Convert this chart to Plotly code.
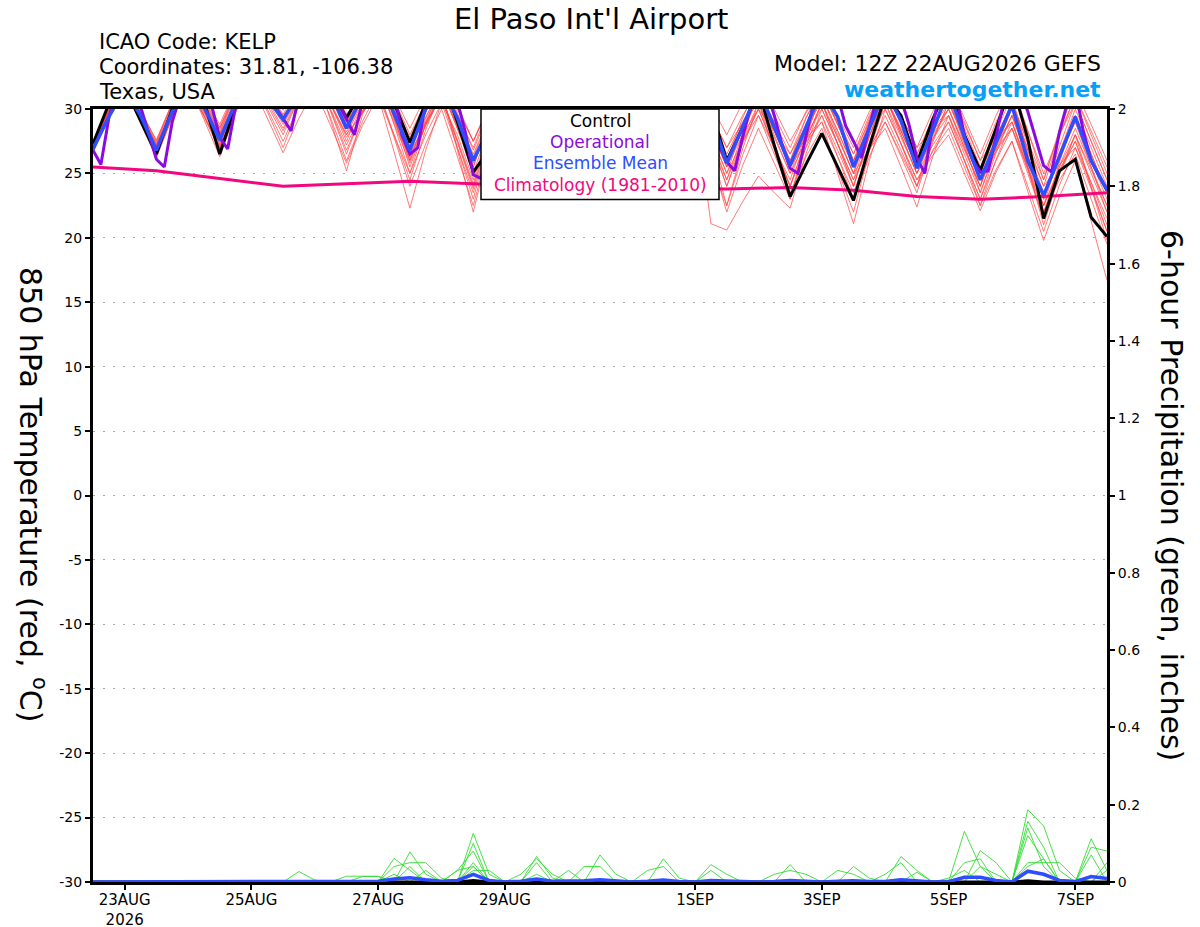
import pandas as pd
import plotly.graph_objects as go

# forecast times of the 12Z 22AUG2026 GEFS run (operational run is 3-hourly)
times_6h = pd.date_range("2026-08-22 12:00", periods=65, freq="6h")
times_3h = pd.date_range("2026-08-22 12:00", periods=129, freq="3h")
clim_times = pd.date_range("2026-08-22 12:00", periods=17, freq="D")

# 850 hPa temperature (C), one row per day: 12Z, 18Z, 00Z, 06Z
control_t = [27.3, 30.4, 31.7, 29.1, 26.5, 30.0, 32.2, 30.6, 26.5, 30.2, 32.4, 31.0,
             30.2, 32.0, 33.0, 31.5, 29.3, 31.5, 33.0, 30.5, 27.4, 30.5, 32.5, 29.0,
             25.1, 26.8, 30.5, 30.0, 27.0, 30.0, 32.0, 30.5, 27.0, 30.0, 32.0, 30.5,
             27.0, 30.0, 32.0, 30.0, 26.0, 28.5, 31.5, 27.2, 23.2, 25.7, 28.1, 25.5,
             22.9, 27.1, 31.0, 29.5, 25.8, 29.2, 32.0, 28.0, 25.2, 28.5, 32.0, 27.7,
             21.5, 25.2, 26.1, 21.6, 20.1]
mean_t = [26.9, 29.4, 31.5, 29.5, 26.8, 29.8, 31.5, 30.2, 27.6, 30.5, 32.0, 30.8,
          29.2, 31.2, 32.5, 31.2, 28.5, 31.0, 32.5, 29.6, 26.8, 30.0, 31.8, 29.3,
          26.0, 28.5, 31.0, 29.5, 26.8, 29.8, 31.5, 29.8, 26.8, 29.8, 31.5, 29.8,
          26.8, 29.8, 31.5, 29.5, 25.8, 28.6, 31.5, 28.6, 25.6, 28.6, 31.5, 29.4,
          25.5, 28.5, 31.5, 29.1, 25.4, 28.3, 31.5, 27.8, 24.5, 27.4, 30.3, 26.0,
          23.3, 26.3, 29.4, 26.0, 23.7]
oper_t = [26.8, 25.7, 29.3, 31.5, 32.5, 32.5, 30.2, 28.2,
          26.1, 25.5, 29.0, 31.0, 32.5, 32.5, 31.5, 30.2,
          27.8, 26.9, 30.2, 32.0, 33.0, 32.5, 31.2, 30.2,
          29.3, 28.3, 31.0, 32.5, 33.0, 33.0, 32.0, 30.5,
          29.2, 28.0, 30.5, 32.0, 33.0, 32.5, 31.5, 28.0,
          26.5, 27.0, 30.5, 32.0, 33.0, 32.5, 30.6, 28.2,
          24.9, 24.6, 27.5, 30.0, 32.0, 32.5, 32.0, 30.0,
          27.0, 26.5, 29.5, 31.5, 32.5, 32.5, 31.5, 29.5,
          26.8, 26.3, 29.5, 31.5, 32.5, 32.5, 31.5, 29.5,
          26.5, 26.0, 29.0, 31.5, 32.5, 32.0, 30.0, 27.2,
          25.9, 25.2, 27.8, 30.1, 32.0, 31.5, 29.5, 27.2,
          25.4, 25.0, 27.9, 30.6, 32.0, 32.5, 31.0, 28.7,
          27.5, 26.2, 28.6, 31.0, 32.5, 33.0, 30.8, 28.8,
          26.2, 25.0, 28.8, 31.5, 32.5, 31.0, 27.9, 26.1,
          25.1, 25.2, 27.9, 30.7, 32.0, 31.5, 29.8, 27.7,
          25.6, 25.1, 28.2, 30.5, 31.5, 28.3, 26.0, 24.8,
          23.7]
clim_t = [25.5, 25.2, 24.6, 24.0, 24.2, 24.4, 24.2, 24.0, 23.9, 23.85, 23.8,
          23.9, 23.7, 23.2, 23.0, 23.2, 23.5]

members_t = [
    [27.0, 29.8, 32.0, 29.2, 26.4, 29.5, 32.0, 29.2, 26.3, 29.7, 32.5, 29.8, 27.0, 30.3, 33.0, 29.1,
     25.2, 29.5, 33.0, 29.3, 25.5, 28.8, 31.5, 26.8, 22.0, 27.0, 31.0, 28.8, 26.5, 29.5, 32.0, 29.5,
     27.0, 29.8, 32.0, 29.0, 26.0, 29.0, 31.5, 27.0, 22.5, 26.9, 30.5, 26.8, 23.0, 27.1, 30.5, 27.3,
     24.0, 27.9, 31.0, 28.0, 25.0, 28.3, 31.0, 27.3, 23.5, 27.1, 30.0, 25.5, 21.0, 24.9, 28.0, 23.9, 19.8],
    [26.8, 29.6, 31.8, 29.2, 26.6, 29.7, 32.2, 29.9, 27.2, 30.2, 32.6, 30.3, 28.0, 30.9, 33.2, 30.4,
     27.5, 30.4, 32.8, 29.4, 26.0, 29.3, 32.0, 28.5, 25.0, 28.6, 31.5, 29.3, 27.0, 29.8, 32.0, 29.3,
     26.5, 29.3, 31.5, 28.3, 25.0, 28.2, 30.5, 21.1, 20.6, 22.8, 24.8, 23.5, 22.3, 26.5, 30.0, 27.3,
     24.5, 28.4, 31.5, 28.8, 26.0, 28.8, 31.0, 28.0, 25.0, 28.3, 31.0, 26.5, 22.0, 25.0, 27.5, 24.0, 20.5],
    [26.9, 29.7, 32.0, 29.5, 27.0, 30.0, 32.5, 30.3, 28.0, 30.8, 33.0, 31.3, 29.5, 31.2, 32.5, 30.3,
     28.0, 29.7, 31.0, 26.7, 22.3, 26.8, 30.5, 28.0, 24.5, 28.4, 31.5, 29.0, 26.5, 29.5, 32.0, 29.5,
     27.0, 29.8, 32.0, 29.5, 27.0, 29.5, 31.5, 28.8, 26.0, 28.8, 31.0, 28.3, 25.5, 27.4, 29.0, 25.0,
     21.1, 26.0, 30.0, 27.3, 24.5, 26.4, 28.0, 25.0, 22.1, 25.1, 27.5, 23.6, 19.8, 23.2, 26.0, 21.3, 16.7],
    [27.1, 29.9, 32.2, 29.7, 27.2, 30.0, 32.3, 29.9, 27.5, 30.4, 32.8, 30.7, 28.5, 31.0, 33.0, 29.8,
     26.5, 29.8, 32.5, 29.5, 26.5, 29.0, 31.0, 27.0, 23.0, 27.7, 31.5, 29.5, 27.5, 30.3, 32.5, 30.0,
     27.5, 30.3, 32.5, 29.8, 27.0, 29.8, 32.0, 29.5, 27.0, 29.5, 31.5, 28.8, 26.0, 28.8, 31.0, 28.0,
     25.0, 26.9, 28.5, 25.5, 22.4, 26.3, 29.5, 26.8, 24.0, 27.6, 30.5, 26.8, 23.0, 26.3, 29.0, 25.5, 22.0],
    [26.7, 29.4, 31.6, 28.9, 26.2, 29.4, 32.0, 29.4, 26.8, 30.2, 33.0, 31.0, 29.0, 31.5, 33.5, 31.0,
     29.0, 31.2, 33.0, 30.3, 27.5, 30.3, 32.5, 29.3, 26.0, 29.0, 31.5, 28.8, 26.0, 29.0, 31.5, 29.0,
     26.5, 29.3, 31.5, 29.0, 26.5, 29.0, 31.0, 27.5, 24.0, 27.3, 30.0, 28.3, 26.5, 29.3, 31.5, 28.8,
     26.0, 28.8, 31.0, 28.3, 25.5, 29.1, 32.0, 29.3, 26.5, 29.5, 32.0, 28.3, 24.5, 28.1, 31.0, 28.0, 25.0],
    [27.2, 30.0, 32.3, 29.9, 27.5, 30.5, 33.0, 30.8, 28.5, 31.3, 33.5, 32.0, 30.5, 32.4, 34.0, 31.8,
     29.5, 31.2, 32.5, 28.8, 25.0, 28.9, 32.0, 29.5, 27.0, 30.0, 32.5, 30.0, 27.5, 30.3, 32.5, 29.8,
     27.0, 29.8, 32.0, 29.3, 26.5, 29.3, 31.5, 28.5, 25.5, 28.0, 30.0, 27.0, 24.0, 27.6, 30.5, 27.8,
     25.0, 28.9, 32.0, 29.3, 26.5, 29.3, 31.5, 28.5, 25.5, 27.4, 29.0, 25.3, 21.5, 25.9, 29.5, 26.5, 23.5],
    [26.9, 29.7, 32.0, 29.5, 26.9, 29.9, 32.4, 30.1, 27.8, 30.8, 33.2, 31.6, 30.0, 31.9, 33.5, 31.0,
     28.5, 31.0, 33.0, 30.0, 27.0, 29.8, 32.0, 29.3, 26.5, 29.3, 31.5, 28.8, 26.0, 29.3, 32.0, 29.5,
     27.0, 30.0, 32.5, 30.0, 27.5, 30.0, 32.0, 29.3, 26.5, 29.0, 31.0, 28.0, 25.0, 27.5, 29.5, 26.3,
     23.0, 26.3, 29.0, 26.5, 24.0, 26.8, 29.0, 26.0, 23.0, 26.6, 29.5, 26.0, 22.5, 26.6, 30.0, 27.0, 24.0],
    [27.0, 29.8, 32.1, 29.7, 27.3, 30.3, 32.7, 30.5, 28.2, 31.2, 33.6, 32.2, 30.8, 32.6, 34.0, 32.0,
     30.0, 31.9, 33.5, 30.8, 28.0, 30.5, 32.5, 30.0, 27.5, 30.0, 32.0, 29.5, 27.0, 29.8, 32.0, 29.3,
     26.5, 29.3, 31.5, 28.8, 26.0, 28.8, 31.0, 28.0, 25.0, 28.6, 31.5, 28.8, 26.0, 29.3, 32.0, 29.5,
     27.0, 29.8, 32.0, 29.0, 26.0, 28.5, 30.5, 27.5, 24.5, 27.8, 30.5, 27.3, 24.0, 27.9, 31.0, 28.3, 25.5],
    [26.8, 29.6, 31.8, 29.2, 26.5, 29.5, 32.0, 29.5, 27.0, 30.0, 32.5, 30.0, 27.5, 30.3, 32.5, 29.3,
     26.0, 29.0, 31.5, 28.0, 24.5, 28.4, 31.5, 28.5, 25.5, 29.1, 32.0, 29.3, 26.5, 29.8, 32.5, 30.0,
     27.5, 30.0, 32.0, 29.0, 26.0, 27.7, 29.0, 25.8, 22.5, 26.4, 29.5, 27.0, 24.5, 28.1, 31.0, 28.3,
     25.5, 29.1, 32.0, 29.5, 27.0, 29.8, 32.0, 29.0, 26.0, 29.0, 31.5, 28.3, 25.0, 28.0, 30.5, 27.5, 24.5],
    [27.0, 29.8, 32.1, 29.9, 27.6, 30.5, 32.9, 30.9, 28.8, 31.6, 33.8, 32.0, 30.2, 32.0, 33.5, 31.3,
     29.0, 30.9, 32.5, 29.3, 26.0, 28.8, 31.0, 27.5, 24.0, 27.9, 31.0, 28.5, 26.0, 29.0, 31.5, 28.8,
     26.0, 28.8, 31.0, 28.3, 25.5, 28.8, 31.5, 28.8, 26.0, 29.3, 32.0, 29.5, 27.0, 29.8, 32.0, 29.3,
     26.5, 29.0, 31.0, 28.0, 25.0, 27.2, 29.0, 26.0, 23.0, 26.0, 28.5, 25.3, 22.0, 24.5, 26.5, 23.0, 19.5],
    [26.6, 29.4, 31.7, 29.3, 26.8, 29.8, 32.2, 29.8, 27.4, 30.6, 33.2, 31.4, 29.6, 31.7, 33.5, 30.9,
     28.2, 30.7, 32.8, 29.7, 26.6, 29.8, 32.5, 30.0, 27.5, 30.3, 32.5, 29.8, 27.0, 29.8, 32.0, 29.5,
     27.0, 30.0, 32.5, 29.8, 27.0, 29.8, 32.0, 29.5, 27.0, 28.9, 30.5, 27.3, 24.0, 27.0, 29.5, 26.8,
     24.0, 27.9, 31.0, 28.5, 26.0, 28.8, 31.0, 28.0, 25.0, 27.8, 30.0, 26.8, 23.5, 26.5, 29.0, 26.0, 23.0],
    [27.3, 30.1, 32.3, 29.7, 27.0, 29.9, 32.2, 30.1, 27.9, 30.7, 32.9, 30.9, 28.8, 31.0, 32.8, 30.0,
     27.2, 29.8, 32.0, 29.1, 26.2, 29.1, 31.5, 28.7, 25.8, 28.9, 31.5, 28.8, 26.0, 29.0, 31.5, 29.0,
     26.5, 29.3, 31.5, 28.8, 26.0, 28.8, 31.0, 27.8, 24.5, 28.1, 31.0, 28.3, 25.5, 28.8, 31.5, 29.0,
     26.5, 29.5, 32.0, 29.5, 27.0, 28.4, 29.5, 26.0, 22.5, 25.3, 27.5, 24.0, 20.5, 24.1, 27.0, 24.3, 21.5],
    [26.9, 29.7, 31.9, 29.1, 26.3, 29.3, 31.8, 29.5, 27.1, 29.8, 32.0, 29.3, 26.6, 29.3, 31.5, 28.7,
     25.8, 28.7, 31.0, 28.0, 25.0, 28.0, 30.5, 27.0, 23.5, 27.6, 31.0, 28.8, 26.5, 29.5, 32.0, 29.5,
     27.0, 29.8, 32.0, 29.3, 26.5, 29.3, 31.5, 28.5, 25.5, 28.5, 31.0, 28.5, 26.0, 27.7, 29.0, 26.3,
     23.5, 26.8, 29.5, 26.8, 24.0, 27.6, 30.5, 27.8, 25.0, 26.9, 28.5, 25.0, 21.5, 25.1, 28.0, 25.3, 22.5],
    [27.0, 29.8, 32.0, 29.6, 27.1, 30.1, 32.5, 30.5, 28.4, 31.2, 33.5, 31.7, 29.9, 32.2, 34.0, 31.6,
     29.2, 31.3, 33.0, 30.4, 27.8, 30.4, 32.5, 29.7, 26.8, 29.7, 32.0, 29.5, 27.0, 29.8, 32.0, 29.8,
     27.5, 30.3, 32.5, 29.8, 27.0, 30.0, 32.5, 30.3, 28.0, 30.5, 32.5, 30.0, 27.5, 29.7, 31.5, 28.8,
     26.0, 29.3, 32.0, 29.3, 26.5, 28.4, 30.0, 27.0, 24.0, 27.0, 29.5, 26.3, 23.0, 27.1, 30.5, 27.5, 24.5],
    [26.7, 29.5, 31.7, 29.2, 26.7, 29.7, 32.1, 29.9, 27.6, 30.6, 33.0, 31.2, 29.3, 31.3, 33.0, 30.4,
     27.8, 29.8, 31.5, 27.8, 24.0, 27.3, 30.0, 26.3, 22.5, 27.2, 31.0, 28.3, 25.5, 28.8, 31.5, 28.8,
     26.0, 29.3, 32.0, 29.3, 26.5, 29.0, 31.0, 28.0, 25.0, 27.5, 29.5, 26.5, 23.5, 26.3, 28.5, 25.3,
     22.0, 26.7, 30.5, 27.8, 25.0, 27.8, 30.0, 27.0, 24.0, 27.6, 30.5, 27.5, 24.5, 28.4, 31.5, 28.8, 26.0],
    [27.1, 29.9, 32.1, 29.8, 27.4, 30.4, 32.8, 30.5, 28.1, 31.1, 33.5, 32.0, 30.4, 32.4, 34.0, 32.0,
     30.0, 31.9, 33.5, 31.0, 28.5, 31.0, 33.0, 30.3, 27.5, 30.3, 32.5, 29.8, 27.5, 30.0, 32.0, 29.5,
     27.0, 29.8, 32.0, 29.3, 26.5, 29.0, 31.0, 27.5, 24.0, 27.6, 30.5, 27.8, 25.0, 28.3, 31.0, 28.3,
     25.5, 28.0, 30.0, 27.3, 24.5, 26.7, 28.5, 25.5, 22.5, 26.1, 29.0, 25.5, 22.0, 25.6, 28.5, 25.5, 22.5],
    [26.8, 29.6, 31.8, 29.2, 26.6, 29.6, 32.0, 29.7, 27.3, 30.3, 32.7, 30.5, 28.3, 30.9, 33.0, 29.9,
     26.8, 29.7, 32.0, 28.9, 25.8, 28.7, 31.0, 27.6, 24.2, 28.2, 31.5, 29.0, 26.5, 29.5, 32.0, 29.3,
     26.5, 29.5, 32.0, 29.5, 27.0, 29.8, 32.0, 29.0, 26.0, 28.8, 31.0, 28.3, 25.5, 28.0, 30.0, 27.3,
     24.5, 27.0, 29.0, 26.3, 23.5, 27.4, 30.5, 28.0, 25.5, 28.0, 30.0, 27.0, 24.0, 25.7, 27.0, 23.8, 20.5],
    [27.0, 29.8, 32.0, 29.6, 27.2, 30.0, 32.3, 30.0, 27.7, 30.6, 33.0, 31.1, 29.1, 31.5, 33.5, 31.2,
     28.8, 31.1, 33.0, 30.1, 27.2, 29.8, 32.0, 29.2, 26.3, 29.2, 31.5, 28.8, 26.0, 28.8, 31.0, 28.5,
     26.0, 28.8, 31.0, 28.3, 25.5, 28.3, 30.5, 27.5, 24.5, 27.5, 30.0, 27.0, 24.0, 27.6, 30.5, 27.8,
     25.0, 28.3, 31.0, 28.3, 25.5, 27.7, 29.5, 26.5, 23.5, 26.8, 29.5, 26.3, 23.0, 26.6, 29.5, 26.5, 23.5],
    [26.9, 29.7, 31.9, 29.4, 26.9, 30.0, 32.6, 30.6, 28.6, 31.4, 33.7, 32.2, 30.6, 32.5, 34.0, 31.8,
     29.6, 31.2, 32.5, 29.7, 26.9, 29.4, 31.5, 28.5, 25.5, 29.1, 32.0, 29.5, 27.0, 29.8, 32.0, 29.5,
     27.0, 29.5, 31.5, 29.0, 26.5, 28.7, 30.5, 26.3, 22.0, 25.6, 28.5, 25.8, 23.0, 27.7, 31.5, 28.8,
     26.0, 28.5, 30.5, 27.3, 24.0, 28.1, 31.5, 28.8, 26.0, 27.7, 29.0, 25.8, 22.5, 25.3, 27.5, 24.3, 21.0],
    [27.2, 30.0, 32.2, 29.4, 26.5, 29.5, 32.0, 29.5, 27.0, 30.1, 32.6, 30.8, 29.0, 31.2, 33.0, 30.5,
     28.0, 30.5, 32.5, 29.5, 26.4, 28.9, 31.0, 27.4, 23.8, 27.8, 31.0, 28.8, 26.5, 29.3, 31.5, 28.8,
     26.0, 28.8, 31.0, 28.5, 26.0, 28.8, 31.0, 28.3, 25.5, 28.8, 31.5, 29.0, 26.5, 28.7, 30.5, 27.3,
     24.0, 27.9, 31.0, 28.3, 25.5, 28.0, 30.0, 27.3, 24.5, 26.7, 28.5, 25.5, 22.5, 25.5, 28.0, 25.0, 22.0],
]

# 6-hour precipitation (inches)
mean_p = [0, 0, 0, 0, 0, 0, 0, 0, 0, 0, 0, 0, 0, .002, 0, 0,
          0, .002, .002, .008, .011, .006, .002, .004, .02, .004, 0, .002, .008, .002, .002, .003,
          .006, .002, 0, .002, .005, .001, 0, .004, .002, .001, 0, .001, .004, .002, 0, .002,
          .003, .001, .001, .006, .003, 0, .001, .012, .012, .004, 0, .028, .02, .004, .001, .014, .009]
control_p = [0, 0, 0, 0, 0, 0, 0, 0, 0, 0, 0, 0, 0, 0, 0, 0,
             0, 0, 0, 0, 0, 0, 0, 0, .004, 0, 0, 0, 0, 0, 0, 0,
             0, 0, 0, 0, 0, 0, 0, 0, 0, 0, 0, 0, 0, 0, 0, 0,
             0, 0, 0, 0, 0, 0, 0, 0, 0, 0, 0, .003, 0, 0, 0, 0, 0]
members_p = [
    [0, 0, 0, 0, 0, 0, 0, 0, 0, 0, 0, 0, 0, 0, 0, 0, 0, 0, 0, .061, .03, 0, 0, 0, .126, .02, 0, 0, 0, 0, 0, 0,
     0, 0, 0, 0, 0, 0, 0, 0, 0, 0, 0, 0, 0, 0, 0, 0, 0, 0, 0, 0, 0, 0, 0, 0, 0, 0, 0, .187, .145, .03, 0, 0, 0],
    [0, 0, 0, 0, 0, 0, 0, 0, 0, 0, 0, 0, 0, 0, 0, 0, 0, 0, 0, 0, .078, .02, 0, 0, .10, 0, 0, 0, .066, .01, 0, 0,
     0, 0, 0, 0, 0, 0, 0, 0, 0, 0, 0, 0, 0, 0, 0, 0, 0, 0, 0, 0, 0, 0, 0, .131, .04, 0, 0, 0, 0, 0, 0, .112, .03],
    [0, 0, 0, 0, 0, 0, 0, 0, 0, 0, 0, 0, 0, .027, .005, 0, 0, 0, 0, 0, 0, 0, 0, 0, .05, 0, 0, 0, 0, 0, 0, 0,
     .07, .02, 0, 0, 0, 0, 0, 0, 0, 0, 0, 0, 0, 0, 0, 0, 0, 0, 0, 0, 0, 0, 0, 0, 0, 0, 0, .157, .09, 0, 0, 0, .05],
    [0, 0, 0, 0, 0, 0, 0, 0, 0, 0, 0, 0, 0, 0, 0, 0, 0, 0, 0, .04, .05, .05, .01, 0, 0, 0, 0, 0, .05, 0, 0, 0,
     0, 0, 0, 0, 0, 0, 0, 0, 0, 0, 0, 0, 0, 0, 0, 0, 0, 0, 0, .066, .03, 0, 0, 0, .081, .05, 0, .14, .04, 0, 0, 0, 0],
    [0, 0, 0, 0, 0, 0, 0, 0, 0, 0, 0, 0, 0, 0, 0, 0, .015, .015, .015, 0, 0, 0, 0, .03, .04, 0, 0, 0, 0, 0, 0, 0,
     0, 0, 0, 0, .06, .01, 0, 0, 0, 0, 0, 0, .045, 0, 0, 0, 0, 0, 0, 0, 0, 0, 0, 0, 0, 0, 0, 0, 0, 0, 0, .09, .08],
    [0, 0, 0, 0, 0, 0, 0, 0, 0, 0, 0, 0, 0, 0, 0, 0, 0, 0, 0, 0, 0, .03, 0, 0, .03, .03, 0, 0, 0, 0, 0, .04,
     .04, 0, 0, 0, 0, 0, 0, .045, .02, 0, 0, 0, 0, 0, 0, 0, 0, 0, 0, 0, 0, 0, 0, .05, .06, 0, 0, .05, .05, .05, .01, 0, 0],
    [0, 0, 0, 0, 0, 0, 0, 0, 0, 0, 0, 0, 0, 0, 0, 0, 0, .014, .014, 0, 0, 0, 0, 0, 0, 0, 0, .02, .06, .02, 0, 0,
     0, 0, 0, .03, .04, 0, 0, 0, 0, 0, 0, 0, 0, 0, 0, 0, .04, .01, 0, 0, .025, 0, 0, 0, 0, 0, 0, 0, 0, 0, 0, .07, 0],
    [0, 0, 0, 0, 0, 0, 0, 0, 0, 0, 0, 0, 0, 0, 0, 0, 0, 0, 0, 0, .04, 0, 0, .03, .08, 0, 0, 0, 0, 0, 0, 0,
     0, 0, 0, 0, 0, 0, 0, 0, 0, 0, 0, 0, 0, 0, 0, .03, .02, 0, .02, .05, 0, 0, 0, 0, 0, 0, 0, .12, .06, 0, 0, 0, 0],
    [0, 0, 0, 0, 0, 0, 0, 0, 0, 0, 0, 0, 0, 0, 0, 0, 0, 0, 0, 0, 0, 0, 0, 0, 0, 0, 0, 0, 0, 0, .03, 0,
     0, 0, 0, 0, 0, 0, 0, .03, 0, 0, 0, .02, .03, .02, 0, 0, 0, 0, 0, 0, 0, 0, 0, 0, .04, .02, 0, 0, 0, 0, 0, 0, .03],
    [0, 0, 0, 0, 0, 0, 0, 0, 0, 0, 0, 0, 0, 0, 0, 0, 0, 0, 0, .02, 0, 0, 0, 0, .04, 0, 0, 0, .02, 0, 0, 0,
     0, 0, 0, 0, 0, 0, 0, 0, 0, 0, 0, 0, 0, 0, 0, 0, 0, 0, 0, 0, 0, 0, .01, .03, 0, 0, 0, .04, .06, 0, 0, 0, 0],
]

tick_dates = ["2026-08-23", "2026-08-25", "2026-08-27", "2026-08-29",
              "2026-09-01", "2026-09-03", "2026-09-05", "2026-09-07"]
tick_text = ["23AUG<br>2026", "25AUG", "27AUG", "29AUG", "1SEP", "3SEP", "5SEP", "7SEP"]
temp_ticks = [-30, -25, -20, -15, -10, -5, 0, 5, 10, 15, 20, 25, 30]
temp_labels = ["-30", "-25", "-20", "-15", "-10", "-5", "0", "5", "10", "15", "20", "25", "30"]
precip_ticks = [0, 0.2, 0.4, 0.6, 0.8, 1, 1.2, 1.4, 1.6, 1.8, 2]
precip_labels = ["0", "0.2", "0.4", "0.6", "0.8", "1", "1.2", "1.4", "1.6", "1.8", "2"]

legend_names = ["Control", "Operational", "Ensemble Mean", "Climatology (1981-2010)"]

FONT = "DejaVu Sans"
W, H = 1200, 927
L, R, T, B = 93, 1107, 108.5, 882.5
RED = "rgba(255,70,70,0.8)"
GREEN = "#33dd33"
BLACK = "#000000"
PURPLE = "#8a0be0"
BLUE = "#2d4dff"
MAGENTA = "#f2077e"


def px(x):
    return (x - L) / (R - L)


def py(y):
    return (B - y) / (B - T)


fig = go.Figure()

for m in members_t:
    fig.add_trace(go.Scatter(x=times_6h, y=m, mode="lines",
                             line=dict(color=RED, width=0.9)))
for m in members_p:
    fig.add_trace(go.Scatter(x=times_6h, y=m, mode="lines", yaxis="y2",
                             line=dict(color=GREEN, width=0.9)))

fig.add_trace(go.Scatter(x=clim_times, y=clim_t, mode="lines",
                         line=dict(color=MAGENTA, width=3)))
fig.add_trace(go.Scatter(x=times_6h, y=control_t, mode="lines",
                         line=dict(color=BLACK, width=3)))
fig.add_trace(go.Scatter(x=times_3h, y=oper_t, mode="lines",
                         line=dict(color=PURPLE, width=3)))
fig.add_trace(go.Scatter(x=times_6h, y=mean_t, mode="lines",
                         line=dict(color=BLUE, width=3.5)))
fig.add_trace(go.Scatter(x=times_6h, y=control_p, mode="lines", yaxis="y2",
                         line=dict(color=BLACK, width=3)))
fig.add_trace(go.Scatter(x=times_6h, y=mean_p, mode="lines", yaxis="y2",
                         line=dict(color=BLUE, width=3.5)))

ann = []
ann.append(dict(text="El Paso Int'l Airport", x=px(591), y=py(18), font=dict(size=29)))
header_left = ["ICAO Code: KELP", "Coordinates: 31.81, -106.38", "Texas, USA"]
for txt, yy in zip(header_left, [41, 66, 91]):
    ann.append(dict(text=txt, x=px(97), y=py(yy), xanchor="left", font=dict(size=21)))
ann.append(dict(text="Model: 12Z 22AUG2026 GEFS", x=px(1103), y=py(63), xanchor="right",
                font=dict(size=22)))
ann.append(dict(text="<b>weathertogether.net</b>", x=px(1103), y=py(89), xanchor="right",
                font=dict(size=22, color="#07a0f7")))
ann.append(dict(text="850 hPa Temperature (red, <sup>o</sup>C)", x=px(33), y=py(495),
                textangle=90, font=dict(size=30)))
ann.append(dict(text="6-hour Precipitation (green, inches)", x=px(1172), y=py(495),
                textangle=90, font=dict(size=30)))
for name, col, yy in zip(legend_names, [BLACK, PURPLE, BLUE, MAGENTA], [121, 142, 163, 185]):
    ann.append(dict(text=name, x=px(600), y=py(yy), font=dict(size=17, color=col)))

for a in ann:
    a.setdefault("xanchor", "center")
    a["xref"] = "paper"
    a["yref"] = "paper"
    a["yanchor"] = "middle"
    a["showarrow"] = False
    a["font"].setdefault("color", "black")
    a["font"]["family"] = FONT

fig.update_layout(
    width=W, height=H,
    margin=dict(l=L, r=W - R, t=T, b=H - B, pad=0, autoexpand=False),
    paper_bgcolor="white", plot_bgcolor="white",
    showlegend=False,
    font=dict(family=FONT, size=14, color="black"),
    annotations=ann,
    shapes=[dict(type="rect", xref="paper", yref="paper", layer="above",
                 x0=px(481), x1=px(719), y0=py(199), y1=1,
                 fillcolor="white", line=dict(color="black", width=1.5))],
    xaxis=dict(
        range=["2026-08-22 12:00", "2026-09-07 12:00"],
        tickvals=tick_dates, ticktext=tick_text, automargin=False,
        ticks="outside", ticklen=5, tickwidth=1.5, tickcolor="black",
        ticklabelstandoff=-3,
        showline=True, linewidth=3, linecolor="black", mirror=True,
        showgrid=False, zeroline=False,
        tickfont=dict(size=15),
    ),
    yaxis=dict(
        range=[-30, 30], tickvals=temp_ticks, ticktext=temp_labels, automargin=False,
        ticks="outside", ticklen=5, tickwidth=1.5, tickcolor="black",
        showline=True, linewidth=3, linecolor="black",
        showgrid=True, gridcolor="#aaaaaa", griddash="2px,8px", gridwidth=1.2,
        zeroline=False, tickfont=dict(size=14),
    ),
    yaxis2=dict(
        range=[0, 2], tickvals=precip_ticks, ticktext=precip_labels, automargin=False,
        overlaying="y", side="right",
        ticks="outside", ticklen=5, tickwidth=1.5, tickcolor="black",
        showline=True, linewidth=3, linecolor="black",
        showgrid=False, zeroline=False, tickfont=dict(size=14),
    ),
)

# drop the default page margin so the 1200x927 figure fills the window exactly
fig.write_html("out.html", config={"displayModeBar": False},
               post_script="document.body.style.margin='0';")
